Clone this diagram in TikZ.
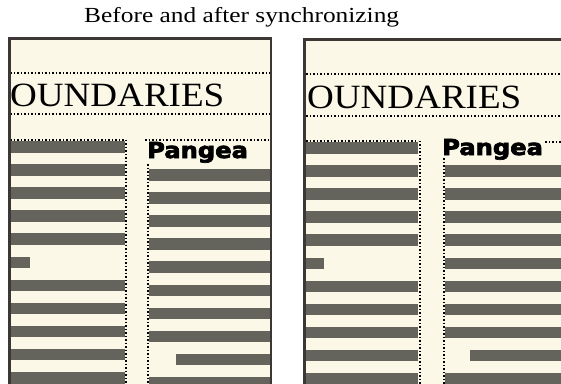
\documentclass[tikz,border=0pt]{standalone}
\usepackage{fontspec}
\setmainfont{Liberation Serif}
\newfontfamily\pangeafont[FakeBold=3]{DejaVu Sans Bold}
\definecolor{cream}{RGB}{252,248,231}
\definecolor{bargray}{RGB}{100,100,92}
\definecolor{frame}{RGB}{60,55,52}
\tikzset{
  bar/.style={fill=bargray},
  dots/.style={draw=black, line width=2pt, dash pattern=on 1.8pt off 1.7pt},
  panelborder/.style={draw=frame, line width=2.6pt, line join=miter},
  headword/.style={inner sep=0pt, anchor=base west, font=\fontsize{34}{34}\selectfont, xscale=1.09},
  pangea/.style={inner sep=0pt, anchor=base west, font=\fontsize{22}{22}\pangeafont, xscale=1.1},
}
\begin{document}
\begin{tikzpicture}[x=1pt,y=-1pt]
\useasboundingbox (0,0) rectangle (561,383);
\begin{scope}
\clip (0,0) rectangle (561,383);
% title
\node[inner sep=0pt, anchor=base west, font=\fontsize{21.5}{21.5}\selectfont, xscale=1.18] (title) at (84,22.5) {Before and after synchronizing};

% ---------- left panel (before)
\fill[cream] (9,38) rectangle (271,390);
\draw[dots] (10,73) -- (270,73);
\node[headword] (hwA) at (10,106) {OUNDARIES};
\draw[dots] (10,113.5) -- (270,113.5);
\foreach \k in {0,1,2,3,4,6,7,8,9,10}
  \fill[bar] (10,{141+23.1*\k}) rectangle (125,{152.5+23.1*\k});
\fill[bar] (10,{141+23.1*5}) rectangle (30,{152.5+23.1*5});
\draw[dots] (10,139.5) -- (125,139.5);
\draw[dots] (125.5,139.5) -- (125.5,385);
\draw[dots] (145,139.5) -- (268,139.5);
\node[pangea] (pgA) at (147,158) {Pangea};
\draw[dots] (147.5,164) -- (147.5,385);
\foreach \j in {0,1,2,3,4,5,6,7,9}
  \fill[bar] (149,{169+23.1*\j}) rectangle (270,{180.5+23.1*\j});
\fill[bar] (176,{169+23.1*8}) rectangle (270,{180.5+23.1*8});
\draw[panelborder] (9.3,390) -- (9.3,38.3) -- (271,38.3) -- (271,390);

% ---------- right panel (after)
\fill[cream] (304,39) rectangle (570,390);
\draw[dots] (306,73.5) -- (561,73.5);
\node[headword] (hwB) at (307,108) {OUNDARIES};
\draw[dots] (306,116) -- (561,116);
\foreach \k in {0,1,2,3,4,6,7,8,9,10}
  \fill[bar] (306,{142+23.1*\k}) rectangle (418,{153.5+23.1*\k});
\fill[bar] (306,{142+23.1*5}) rectangle (324,{153.5+23.1*5});
\draw[dots] (306,140.5) -- (418,140.5);
\draw[dots] (419.5,140.5) -- (419.5,385);
\node[pangea] (pgB) at (442,155) {Pangea};
\draw[dots] (545,141.5) -- (561,141.5);
\draw[dots] (443.5,158) -- (443.5,385);
\foreach \k in {1,2,3,4,5,6,7,8,10}
  \fill[bar] (445,{142+23.1*\k}) rectangle (561,{153.5+23.1*\k});
\fill[bar] (470,{142+23.1*9}) rectangle (561,{153.5+23.1*9});
\draw[panelborder] (304.3,390) -- (304.3,39.3) -- (570,39.3);
\end{scope}
\end{tikzpicture}
\end{document}
